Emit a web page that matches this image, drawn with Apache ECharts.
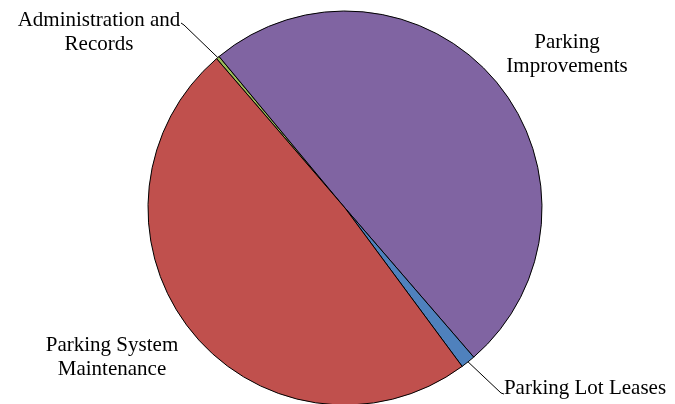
<!DOCTYPE html>
<html>
<head>
<meta charset="utf-8">
<title>Parking Fund Expenditures</title>
<script src="https://cdn.jsdelivr.net/npm/echarts@6.0.0/dist/echarts.min.js"></script>
<style>
  html, body { margin: 0; padding: 0; background: #ffffff; }
  #chart { width: 675px; height: 404px; }
</style>
</head>
<body>
<div id="chart"></div>
<script>
// Share of spending by program (percent)
const categories = [
  'Administration and Records',
  'Parking Improvements',
  'Parking Lot Leases',
  'Parking System Maintenance'
];
const shares = [0.27, 49.7, 1.2, 48.83];
const labelTexts = [
  'Administration and\nRecords',
  'Parking\nImprovements',
  'Parking Lot Leases',
  'Parking System\nMaintenance'
];
const sliceColors = ['#9BBB59', '#8064A2', '#4F81BD', '#C0504D'];

// Label block centres and leader-line end points (px)
const labelSpots = [
  { x: 99, y: 32, line: [[184, 25], [181, 23]] },
  { x: 567, y: 54 },
  { x: 585, y: 388, line: [[501, 393], [504, 394]] },
  { x: 112, y: 357 }
];

const chart = echarts.init(document.getElementById('chart'), null, { renderer: 'canvas' });

const pieData = categories.map((name, i) => ({
  name: name,
  value: shares[i],
  itemStyle: { color: sliceColors[i] },
  labelLine: { show: !!labelSpots[i].line }
}));

chart.setOption({
  animation: false,
  backgroundColor: '#ffffff',
  series: [{
    type: 'pie',
    center: [345, 208],
    radius: 197,
    startAngle: 130.7,
    clockwise: true,
    avoidLabelOverlap: false,
    data: pieData,
    itemStyle: { borderColor: '#000000', borderWidth: 1 },
    label: {
      show: true,
      position: 'outside',
      formatter: p => labelTexts[p.dataIndex],
      fontFamily: 'Liberation Serif',
      fontSize: 21,
      lineHeight: 24,
      color: '#000000'
    },
    labelLine: {
      show: true,
      lineStyle: { color: '#000000', width: 1 }
    },
    emphasis: { disabled: true },
    labelLayout: function (params) {
      const spot = labelSpots[params.dataIndex];
      const out = { x: spot.x, y: spot.y, align: 'center', verticalAlign: 'middle' };
      if (spot.line && params.labelLinePoints) {
        out.labelLinePoints = [params.labelLinePoints[0], spot.line[0], spot.line[1]];
      }
      return out;
    }
  }]
});
</script>
</body>
</html>
